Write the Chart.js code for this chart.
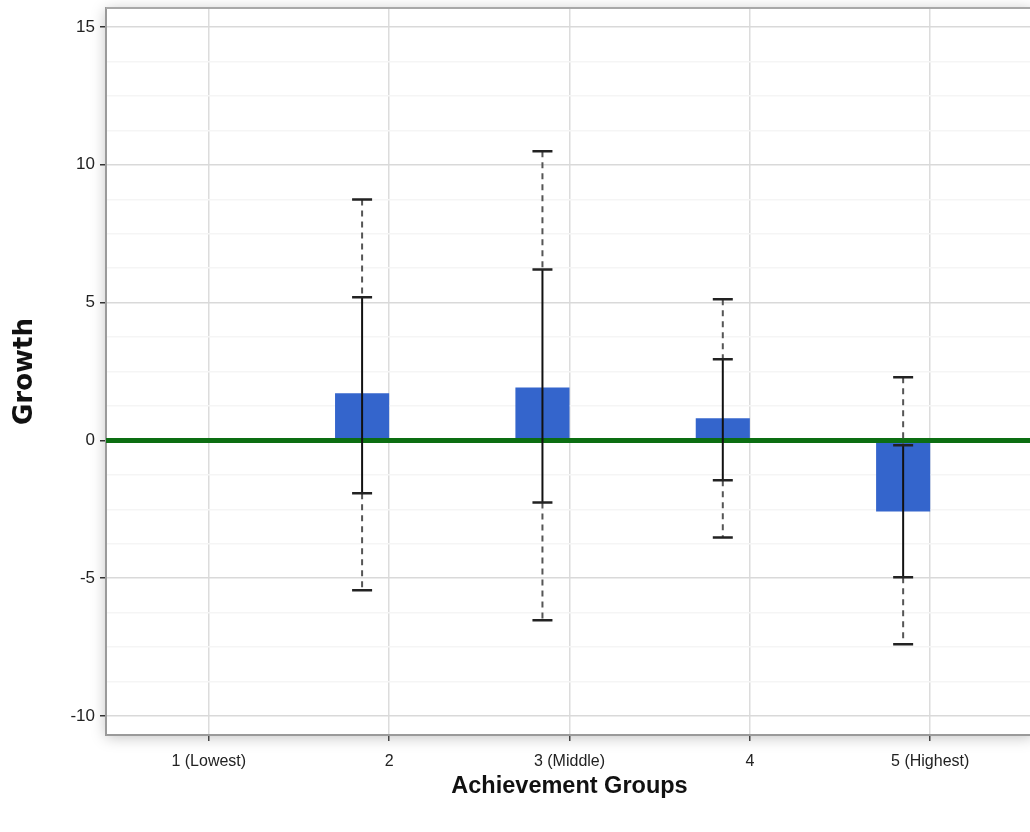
<!DOCTYPE html>
<html>
<head>
<meta charset="utf-8">
<script src="https://cdn.jsdelivr.net/npm/chart.js@4/dist/chart.umd.min.js"></script>
<style>
  html, body { margin: 0; padding: 0; background: #fff; overflow: hidden; }
  #wrap { width: 1036px; height: 832px; }
</style>
</head>
<body>
<div id="wrap"><canvas id="growthChart"></canvas></div>
<script>
const groupLabels = ['1 (Lowest)', '2', '3 (Middle)', '4', '5 (Highest)'];
const growthValues = [null, 1.71, 1.92, 0.80, -2.58];
const innerHigh = [null, 5.19, 6.20, 2.94, -0.18];
const innerLow = [null, -1.92, -2.25, -1.45, -4.97];
const outerHigh = [null, 8.74, 10.49, 5.12, 2.29];
const outerLow = [null, -5.44, -6.53, -3.52, -7.40];
const yMajorStep = 5;
const yMinorStep = 1.25;

const labelFont = "'Liberation Sans', Arial, Helvetica, sans-serif";

// white plot panel with a soft shadow, plus the top frame line
const panelPlugin = {
    id: 'panel',
    beforeDraw(chart) {
        const { ctx, chartArea: a } = chart;
        ctx.save();
        ctx.shadowColor = 'rgba(0,0,0,0.25)';
        ctx.shadowBlur = 14;
        ctx.shadowOffsetY = 2;
        ctx.fillStyle = '#fff';
        ctx.fillRect(a.left, a.top, a.right - a.left, a.bottom - a.top);
        ctx.restore();
    },
    afterDraw(chart) {
        const { ctx, chartArea: a } = chart;
        ctx.save();
        ctx.strokeStyle = '#a8a8a8';
        ctx.lineWidth = 2;
        ctx.beginPath();
        ctx.moveTo(a.left, a.top);
        ctx.lineTo(a.right, a.top);
        ctx.stroke();
        ctx.restore();
    }
};

// green zero line and the two-level error bars
const errorPlugin = {
    id: 'errorBars',
    afterDatasetsDraw(chart) {
        const { ctx, chartArea: a, scales: { y } } = chart;
        const meta = chart.getDatasetMeta(0);
        const y0 = y.getPixelForValue(0);

        ctx.save();
        ctx.strokeStyle = '#0c6e12';
        ctx.lineWidth = 5;
        ctx.beginPath();
        ctx.moveTo(a.left, y0);
        ctx.lineTo(a.right, y0);
        ctx.stroke();

        const cap = 10;
        growthValues.forEach((v, i) => {
            if (v === null) return;
            const x = meta.data[i].x;
            const oh = y.getPixelForValue(outerHigh[i]);
            const ih = y.getPixelForValue(innerHigh[i]);
            const il = y.getPixelForValue(innerLow[i]);
            const ol = y.getPixelForValue(outerLow[i]);

            // dashed outer range
            ctx.setLineDash([6, 5]);
            ctx.strokeStyle = '#555';
            ctx.lineWidth = 2;
            ctx.beginPath();
            ctx.moveTo(x, oh); ctx.lineTo(x, ih);
            ctx.moveTo(x, il); ctx.lineTo(x, ol);
            ctx.stroke();

            // solid inner range
            ctx.setLineDash([]);
            ctx.strokeStyle = '#111';
            ctx.lineWidth = 2;
            ctx.beginPath();
            ctx.moveTo(x, ih); ctx.lineTo(x, il);
            ctx.stroke();

            // caps
            ctx.strokeStyle = '#222';
            ctx.lineWidth = 2.5;
            ctx.beginPath();
            [oh, ih, il, ol].forEach(py => {
                ctx.moveTo(x - cap, py);
                ctx.lineTo(x + cap, py);
            });
            ctx.stroke();
        });
        ctx.restore();
    }
};

const noPadding = axis => {
    axis.paddingTop = 0;
    axis.paddingBottom = 0;
    axis.paddingLeft = 0;
    axis.paddingRight = 0;
};

const ctx = document.getElementById('growthChart').getContext('2d');
new Chart(ctx, {
    type: 'bar',
    data: {
        datasets: [{
            label: 'Growth',
            data: groupLabels.map((_, i) => ({ x: i, y: growthValues[i] })),
            backgroundColor: '#3465cc',
            borderWidth: 0
        }, {
            label: 'spacer',
            data: groupLabels.map((_, i) => ({ x: i, y: null })),
            backgroundColor: 'transparent'
        }]
    },
    options: {
        responsive: true,
        maintainAspectRatio: false,
        animation: false,
        categoryPercentage: 0.6,
        barPercentage: 1.0,
        layout: { padding: { top: 8, right: 3, left: 0, bottom: 0 } },
        plugins: { legend: { display: false }, tooltip: { enabled: false } },
        scales: {
            x: {
                type: 'linear',
                offset: false,
                min: -0.57,
                max: 4.57,
                afterBuildTicks: axis => { axis.ticks = groupLabels.map((_, i) => ({ value: i })); },
                afterFit: axis => { axis.height = 97; noPadding(axis); },
                ticks: {
                    callback: v => groupLabels[v],
                    autoSkip: false,
                    maxRotation: 0,
                    padding: 11,
                    color: '#222',
                    font: { family: labelFont, size: 16 }
                },
                grid: { offset: false, color: '#dcdcdc', tickColor: '#444', tickLength: 6, lineWidth: 1.5 },
                border: { display: true, color: '#9a9a9a', width: 2 },
                title: {
                    display: true,
                    text: 'Achievement Groups',
                    color: '#111',
                    font: { family: labelFont, size: 23.5, weight: 'bold' },
                    padding: { top: 0, bottom: 31 }
                }
            },
            y: {
                min: -10.69,
                max: 15.69,
                afterBuildTicks: axis => {
                    const t = [];
                    for (let v = -10; v <= 15; v += yMinorStep) t.push({ value: v });
                    axis.ticks = t;
                },
                afterFit: axis => { axis.width = 106; noPadding(axis); },
                ticks: {
                    callback: v => (v % yMajorStep === 0 ? v : ''),
                    padding: 5,
                    color: '#222',
                    font: { family: labelFont, size: 17 }
                },
                grid: {
                    color: c => (c.tick && c.tick.value % yMajorStep === 0 ? '#d9d9d9' : '#f5f5f5'),
                    tickColor: c => (c.tick && c.tick.value % yMajorStep === 0 ? '#333' : 'transparent'),
                    tickLength: 6,
                    lineWidth: 1.5
                },
                border: { display: true, color: '#9a9a9a', width: 2 },
                title: {
                    display: true,
                    text: 'Growth',
                    color: '#111',
                    font: { family: "'DejaVu Sans', sans-serif", size: 26, weight: 'bold' },
                    padding: { top: 9.5, bottom: 0 }
                }
            }
        }
    },
    plugins: [panelPlugin, errorPlugin]
});
</script>
</body>
</html>
